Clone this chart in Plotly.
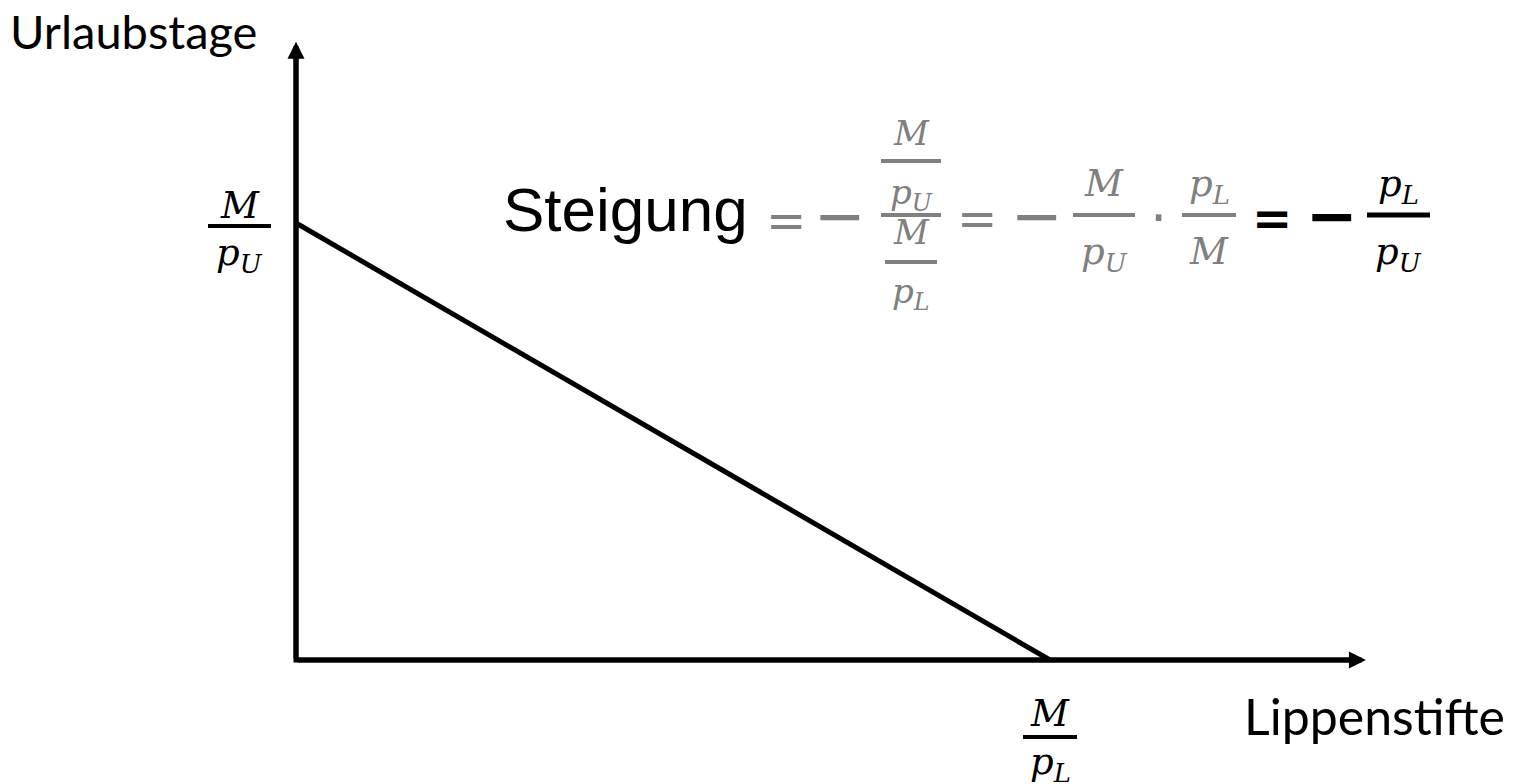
import plotly.graph_objects as go

# ---------------- data ----------------
budget_x = [0, 10]          # 0 .. M/pL
budget_y = [6, 0]           # M/pU .. 0
axis_x_end = 14.19          # tip of horizontal arrow
axis_y_end = 8.49           # tip of vertical arrow
x_label = "Lippenstifte"
y_label = "Urlaubstage"

W, H = 1513, 784
# pixel placement of the origin and scales
ox, oy = 296, 660
sx = (1050 - 296) / budget_x[1]
sy = (660 - 223) / budget_y[0]
xrange = [(0 - ox) / sx, (W - ox) / sx]
yrange = [(oy - H) / sy, (oy - 0) / sy]

GRAY = "#808080"
MATH = "DejaVu Serif"
TXT = "Lato"
OPS = "DejaVu Sans"

def px(x):
    return x / W

def py(y):
    return 1 - y / H

fig = go.Figure()

# axes corner (polyline) and budget line
fig.add_trace(go.Scatter(x=[0, 0, axis_x_end - 0.2], y=[axis_y_end - 0.2, 0, 0], mode="lines",
                         line=dict(color="black", width=5), hoverinfo="skip"))
fig.add_trace(go.Scatter(x=budget_x, y=budget_y, mode="lines",
                         line=dict(color="black", width=5), hoverinfo="skip"))

annotations = []
# arrowheads
for (x, y) in [(axis_x_end, 0), (0, axis_y_end)]:
    annotations.append(dict(x=x, y=y, ax=0, ay=0, xref="x", yref="y", axref="x", ayref="y",
                            showarrow=True, arrowhead=2, arrowsize=0.68, arrowwidth=5,
                            arrowcolor="black", text="", standoff=0))

def text(xp, yp, s, size, color="black", family=MATH, anchor="center"):
    annotations.append(dict(x=px(xp), y=py(yp), xref="paper", yref="paper", text=s,
                            showarrow=False, xanchor=anchor, yanchor="middle",
                            font=dict(family=family, size=size, color=color)))

shapes = []
def bar(x0, x1, y, color="black", w=3):
    shapes.append(dict(type="line", xref="paper", yref="paper", x0=px(x0), x1=px(x1),
                       y0=py(y), y1=py(y), line=dict(color=color, width=w)))

def frac(x0, x1, ybar, num, den, color="black", size=37, up=22, down=32, w=3):
    xc = (x0 + x1) / 2
    bar(x0, x1, ybar, color, w)
    text(xc, ybar - up, num, size, color)
    text(xc, ybar + down, den, size, color)

M = "<i>M</i>"
pU = "<i>p</i><sub><i>U</i></sub>"
pL = "<i>p</i><sub><i>L</i></sub>"

# axis labels
text(8, 31, y_label, 47, family=TXT, anchor="left")
text(1242, 716, x_label, 50, family=TXT, anchor="left")

# intercept labels
frac(208, 271, 226, M, pU, up=21, down=29, w=4)
frac(1023, 1077, 737, M, pL, up=24, down=27, w=4)

# slope formula
text(501, 210, "Steigung", 62, family="Liberation Sans", anchor="left")
text(786, 220, "=", 48, GRAY, family=OPS)
text(840, 216, "−", 62, GRAY, family=OPS)
# nested fraction
bar(881, 941, 215, GRAY, 4)
frac(881, 941, 161, M, pU, GRAY, size=34, up=28, down=33, w=4)
frac(885, 937, 262, M, pL, GRAY, size=34, up=30, down=31, w=4)
text(977, 218, "=", 48, GRAY, family=OPS)
text(1037, 216, "−", 62, GRAY, family=OPS)
frac(1073, 1135, 215, M, pU, GRAY, size=37, up=32, down=39, w=4)
text(1158, 217, "·", 54, GRAY, family=OPS)
frac(1182, 1236, 215, pL, M, GRAY, size=37, up=29, down=37, w=4)
text(1272, 218, "<b>=</b>", 48, "black", family=OPS)
text(1332, 216, "<b>−</b>", 62, "black", family=OPS)
frac(1367, 1430, 215, pL, pU, "black", size=37, up=29, down=39, w=5)

fig.update_layout(
    width=W, height=H, margin=dict(l=0, r=0, t=0, b=0),
    paper_bgcolor="white", plot_bgcolor="white", showlegend=False,
    xaxis=dict(range=xrange, visible=False, fixedrange=True),
    yaxis=dict(range=yrange, visible=False, fixedrange=True),
    annotations=annotations, shapes=shapes,
)
fig.write_html("out.html", config={"displayModeBar": False},
               post_script="document.body.style.margin='0';document.body.style.overflow='hidden';")
